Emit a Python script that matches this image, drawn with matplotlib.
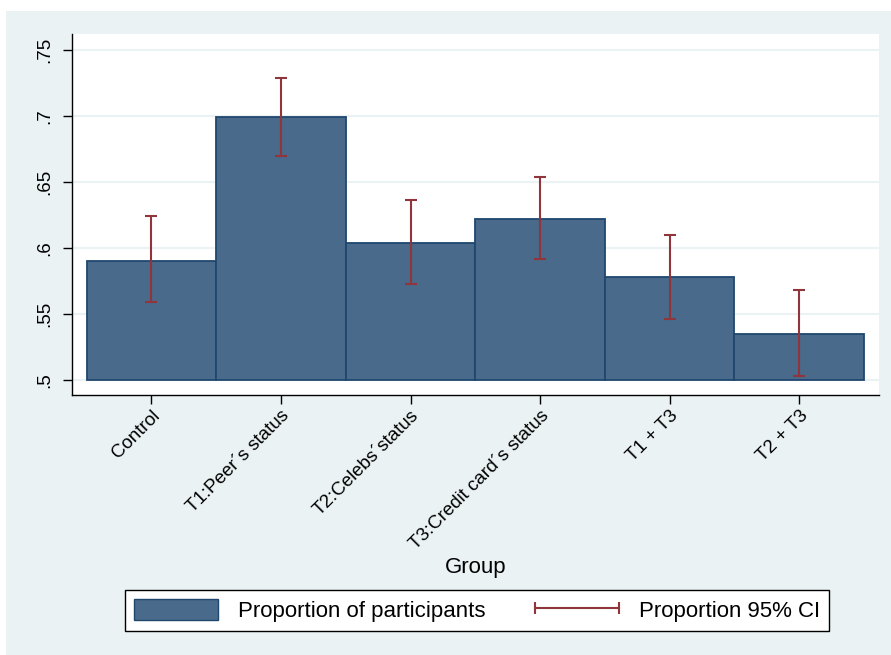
import matplotlib
matplotlib.use('Agg')
import matplotlib.pyplot as plt
from matplotlib.patches import Rectangle, Patch
from matplotlib.lines import Line2D
from matplotlib.legend_handler import HandlerLine2D

plt.rcParams['font.family'] = ['Liberation Sans', 'DejaVu Sans']

# Proportion of participants per group with 95% CI
groups = ['Control', 'T1:Peer\u00b4s status', 'T2:Celebs\u00b4status',
          'T3:Credit card\u00b4s status', 'T1 + T3', 'T2 + T3']
prop = [0.590, 0.699, 0.604, 0.622, 0.578, 0.535]
ci_lo = [0.559, 0.670, 0.573, 0.592, 0.546, 0.503]
ci_hi = [0.624, 0.729, 0.636, 0.654, 0.610, 0.568]
yticks = [0.5, 0.55, 0.6, 0.65, 0.7, 0.75]
ytick_labels = ['.5', '.55', '.6', '.65', '.7', '.75']

BG = '#EAF2F3'
BAR = '#496A8A'
BAR_EDGE = '#1F476E'
CI = '#90353B'

fig = plt.figure(figsize=(8.91, 6.55), dpi=100, facecolor='white')
fig.patches.append(Rectangle((6 / 891, 0), 1, 1 - 11 / 655, transform=fig.transFigure,
                             facecolor=BG, edgecolor='none', zorder=-10))

ax = fig.add_axes([72 / 891, 1 - 395 / 655, (879 - 72) / 891, (395 - 34) / 655])
ax.set_facecolor('white')

x = list(range(len(groups)))
base = 0.5
ax.bar(x, [p - base for p in prop], bottom=base, width=1.0, color=BAR,
       edgecolor=BAR_EDGE, linewidth=1.3, zorder=2)
err = [[p - lo for p, lo in zip(prop, ci_lo)], [hi - p for p, hi in zip(prop, ci_hi)]]
ax.errorbar(x, prop, yerr=err, fmt='none', ecolor=CI, elinewidth=1.5,
            capsize=4.5, capthick=1.5, zorder=3)

ax.set_ylim(0.48864, 0.76212)
ax.set_xlim(-0.6135, 5.616)
ax.set_yticks(yticks)
ax.set_yticklabels(ytick_labels, rotation=90, va='center', fontsize=13.5)
ax.set_xticks(x)
ax.set_xticklabels(groups, rotation=45, ha='right', va='top',
                   rotation_mode='anchor', fontsize=13.5)
ax.tick_params(axis='both', length=6.5, width=1, color='black', direction='out')
ax.tick_params(axis='y', pad=7)
ax.tick_params(axis='x', pad=2)
ax.grid(axis='y', color=BG, linewidth=1.5, zorder=0)
ax.set_axisbelow(True)
for s in ['top', 'right']:
    ax.spines[s].set_visible(False)
for s in ['left', 'bottom']:
    ax.spines[s].set_linewidth(1.0)

ax.set_xlabel('Group', fontsize=16)
ax.xaxis.set_label_coords(0.5, -0.45)

bar_handle = Patch(facecolor=BAR, edgecolor=BAR_EDGE, linewidth=1)
ci_handle = Line2D([], [], color=CI, linewidth=1.5, marker='|', markersize=8,
                   markeredgewidth=1.5)
leg = fig.legend([bar_handle, ci_handle],
                 ['Proportion of participants', 'Proportion 95% CI'],
                 loc='center', bbox_to_anchor=(477 / 891, 1 - 610.5 / 655),
                 ncol=2, fontsize=16, numpoints=2, handlelength=3.8,
                 handleheight=1.05, handletextpad=0.9, columnspacing=2.2,
                 borderpad=0.4, fancybox=False, framealpha=1, edgecolor='black',
                 handler_map={ci_handle: HandlerLine2D(marker_pad=0)})
leg.get_frame().set_linewidth(1.0)

fig.savefig('out.png', dpi=100, facecolor='white')
